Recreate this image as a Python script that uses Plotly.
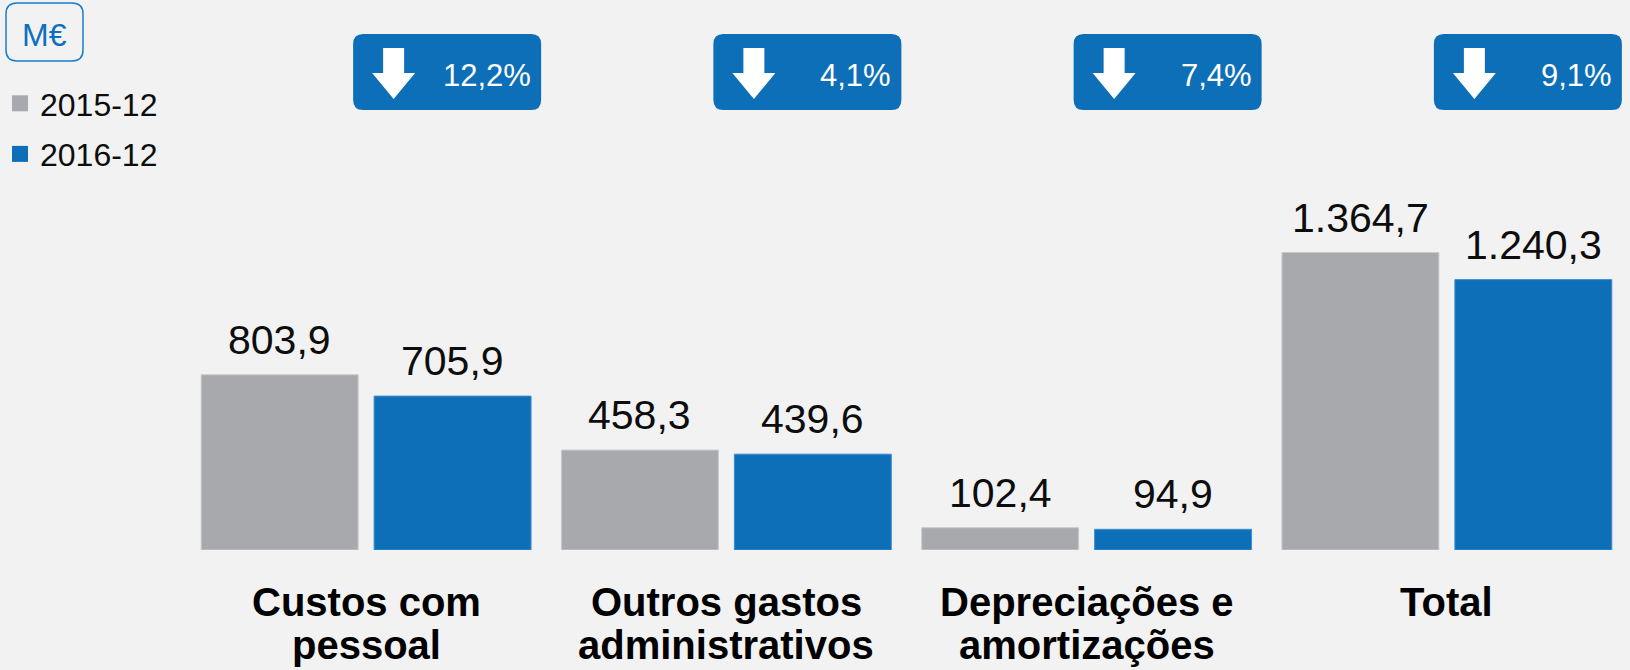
import plotly.graph_objects as go

# ---- data ----
categories = ["Custos com<br>pessoal", "Outros gastos<br>administrativos",
              "Depreciações e<br>amortizações", "Total"]
series_names = ["2015-12", "2016-12"]
values_2015 = [803.9, 458.3, 102.4, 1364.7]
values_2016 = [705.9, 439.6, 94.9, 1240.3]
change_labels = ["12,2%", "4,1%", "7,4%", "9,1%"]
unit_label = "M€"

# ---- style ----
BG = "#f2f2f2"
GRAY = "#a8a9ad"
BLUE = "#0c6fb7"
W, H = 1630, 670
ML, MR, MT, MB = 186, 3, 0, 120
Y_MAX = 2523
BAR_OFFSET_PX = 86.5

def fmt(v):
    s = f"{v:,.1f}"
    return s.replace(",", "X").replace(".", ",").replace("X", ".")

fig = go.Figure()
cols = [GRAY, BLUE]
lines = ["#c9cacd", "#3d8fd0"]
for name, vals, c, lc in zip(series_names, [values_2015, values_2016], cols, lines):
    fig.add_trace(go.Bar(x=categories, y=vals, name=name, marker_color=c,
                         marker_line=dict(color=lc, width=1), showlegend=False,
                         hoverinfo="skip"))
    fig.add_trace(go.Scatter(x=[None], y=[None], mode="markers", name=name,
                             marker=dict(symbol="square", size=16, color=c),
                             legendgroup=name))

annotations = []
shapes = []
# value labels
for si, vals in enumerate([values_2015, values_2016]):
    sign = -1 if si == 0 else 1
    for cat, v in zip(categories, vals):
        annotations.append(dict(x=cat, y=v, xref="x", yref="y", text=fmt(v),
                                showarrow=False, yanchor="bottom", xanchor="center",
                                xshift=sign * BAR_OFFSET_PX, yshift=10,
                                font=dict(family="Liberation Sans, Arial", size=41, color="#0d0d0d")))
# category labels (two lines)
for cat in categories:
    parts = cat.split("<br>")
    for li, part in enumerate(parts):
        annotations.append(dict(x=cat, y=0, xref="x", yref="paper", text=f"<b>{part}</b>",
                                showarrow=False, yanchor="top", xanchor="center",
                                yshift=-28 - 43 * li,
                                font=dict(family="Liberation Sans, Arial", size=40, color="#000000")))
# change boxes
box_l, box_r, box_t, box_b, rad = -13, 175, -34, -110, 10
box_path = (f"M{box_l+rad},{box_t} L{box_r-rad},{box_t} Q{box_r},{box_t} {box_r},{box_t-rad} "
            f"L{box_r},{box_b+rad} Q{box_r},{box_b} {box_r-rad},{box_b} L{box_l+rad},{box_b} "
            f"Q{box_l},{box_b} {box_l},{box_b+rad} L{box_l},{box_t-rad} Q{box_l},{box_t} {box_l+rad},{box_t} Z")
ax = 27.5
arrow_path = (f"M{ax-10.5},-48 L{ax+10.5},-48 L{ax+10.5},-73 L{ax+21.5},-73 L{ax},-99 "
              f"L{ax-21.5},-73 L{ax-10.5},-73 Z")
for cat, lab in zip(categories, change_labels):
    for p in (box_path, arrow_path):
        shapes.append(dict(type="path", xref="x", yref="paper", xsizemode="pixel", ysizemode="pixel",
                           xanchor=cat, yanchor=1, path=p,
                           fillcolor=BLUE if p is box_path else "white", line=dict(width=0)))
    annotations.append(dict(x=cat, y=1, xref="x", yref="paper", text=lab, showarrow=False,
                            xanchor="right", yanchor="top", xshift=box_r - 8, yshift=-56,
                            font=dict(family="Liberation Sans, Arial", size=31, color="white")))
# unit box
ub_l, ub_r, ub_t, ub_b, ur = 6 - ML, 83 - ML, -3, -61, 11
ub_path = (f"M{ub_l+ur},{ub_t} L{ub_r-ur},{ub_t} Q{ub_r},{ub_t} {ub_r},{ub_t-ur} "
           f"L{ub_r},{ub_b+ur} Q{ub_r},{ub_b} {ub_r-ur},{ub_b} L{ub_l+ur},{ub_b} "
           f"Q{ub_l},{ub_b} {ub_l},{ub_b+ur} L{ub_l},{ub_t-ur} Q{ub_l},{ub_t} {ub_l+ur},{ub_t} Z")
shapes.append(dict(type="path", xref="paper", yref="paper", xsizemode="pixel", ysizemode="pixel",
                   xanchor=0, yanchor=1, path=ub_path, fillcolor=BG,
                   line=dict(color="#1a7fd0", width=1.5)))
annotations.append(dict(x=0, y=1, xref="paper", yref="paper", text=unit_label, showarrow=False,
                        xanchor="center", yanchor="top", xshift=44.5 - ML, yshift=-15,
                        font=dict(family="Liberation Sans, Arial", size=32, color="#0c6fc0")))

fig.update_layout(
    width=W, height=H, margin=dict(l=ML, r=MR, t=MT, b=MB),
    paper_bgcolor=BG, plot_bgcolor=BG,
    barmode="group", bargap=0.04, bargroupgap=0.0925,
    xaxis=dict(range=[-0.5, 3.5], showticklabels=False, showgrid=False, zeroline=False,
               showline=False, ticks=""),
    yaxis=dict(range=[0, Y_MAX], visible=False),
    showlegend=True,
    legend=dict(xref="container", yref="container", x=0, y=1 - 76 / H, xanchor="left", yanchor="top",
                bgcolor="rgba(0,0,0,0)", font=dict(family="Liberation Sans, Arial", size=32, color="#0d0d0d"),
                tracegroupgap=6, itemclick=False),
    annotations=annotations, shapes=shapes,
)
fig.write_html("out.html", config={"displayModeBar": False},
               post_script="document.body.style.margin='0';document.body.style.overflow='hidden';")
